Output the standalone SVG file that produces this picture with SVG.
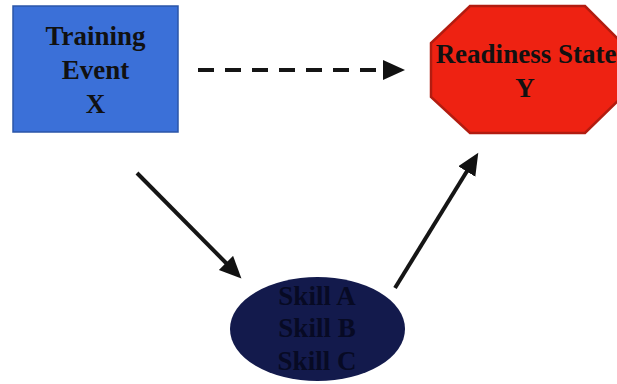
<svg xmlns="http://www.w3.org/2000/svg" width="617" height="384" viewBox="0 0 617 384">
  <style>
    .lbl { font-family: "Liberation Serif", "Times New Roman", serif; font-weight: bold; font-size: 27px; text-anchor: middle; fill: #111111; }
    .skill { fill: #070a24; }
    .conn { stroke: #151515; stroke-width: 4; fill: none; }
    .dash { stroke-dasharray: 16 11; }
  </style>
  <defs>
    <marker id="head" markerUnits="userSpaceOnUse" markerWidth="24" markerHeight="22" refX="10" refY="10" orient="auto">
      <path d="M0,0 L22,10 L0,20 z" fill="#111111" stroke="none"/>
    </marker>
  </defs>

  <rect width="617" height="384" fill="#ffffff"/>

  <g id="training-event">
    <rect x="13" y="6" width="165" height="126" fill="#3b70d8" stroke="#2b55a8" stroke-width="1.5"/>
    <text class="lbl" x="95.5" y="45">Training</text>
    <text class="lbl" x="95.5" y="79">Event</text>
    <text class="lbl" x="95.5" y="113">X</text>
  </g>

  <g id="readiness-state">
    <polygon points="470,6 585,6 622,43 622,97 585,133 470,133 431,97 431,43" fill="#ee2212" stroke="#b21c10" stroke-width="2.5"/>
    <text class="lbl" x="526" y="63">Readiness State</text>
    <text class="lbl" x="525" y="97">Y</text>
  </g>

  <g id="skills">
    <ellipse cx="317.5" cy="329" rx="87.5" ry="52" fill="#131a4c"/>
    <text class="lbl skill" x="317" y="305">Skill A</text>
    <text class="lbl skill" x="317" y="337">Skill B</text>
    <text class="lbl skill" x="317" y="370">Skill C</text>
  </g>

  <g id="connectors">
    <line class="conn dash" x1="198" y1="70" x2="393" y2="70" marker-end="url(#head)"/>
    <line class="conn" x1="137" y1="173" x2="233" y2="270" marker-end="url(#head)"/>
    <line class="conn" x1="395" y1="288" x2="472" y2="163" marker-end="url(#head)"/>
  </g>
</svg>
